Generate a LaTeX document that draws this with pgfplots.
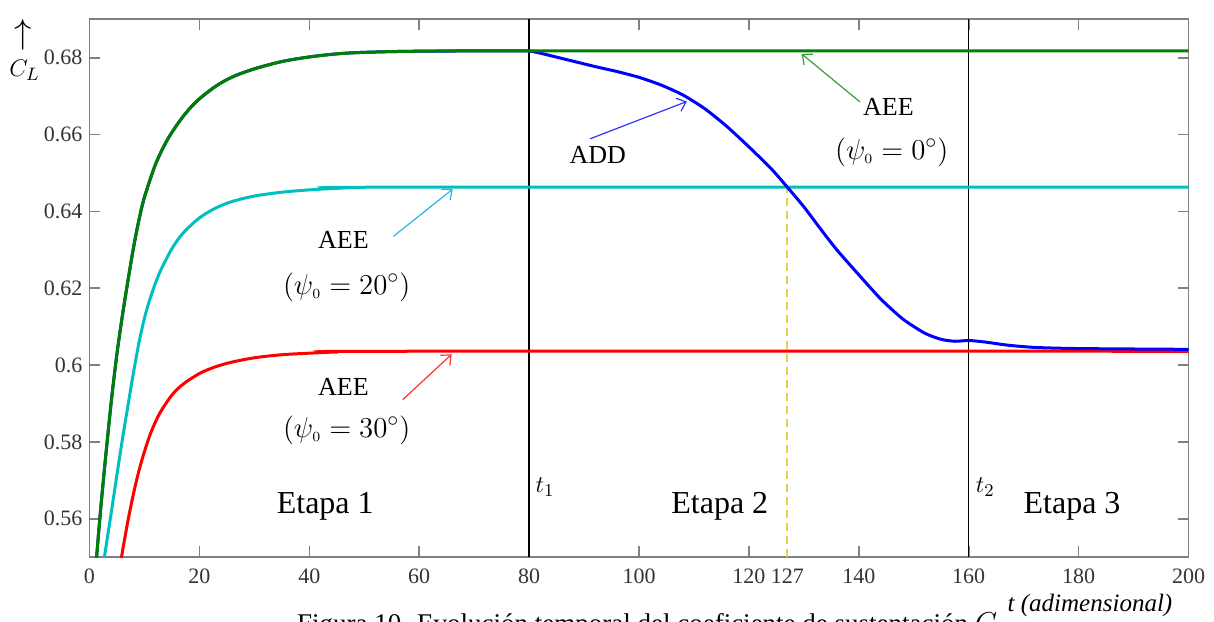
\documentclass[border=0pt]{standalone}
\usepackage{pgfplots}
\pgfplotsset{compat=1.18}
\usepackage{fontspec}
\setmainfont{Liberation Serif}
\usetikzlibrary{arrows.meta}
\definecolor{cgreen}{RGB}{0,128,0}
\definecolor{ccyan}{RGB}{0,191,191}
\definecolor{cblue}{RGB}{0,0,255}
\definecolor{cred}{RGB}{255,0,0}
\definecolor{cyel}{RGB}{222,212,70}
\definecolor{agreen}{RGB}{60,155,60}
\definecolor{acyan}{RGB}{40,180,230}
\definecolor{ablue}{RGB}{50,50,255}
\definecolor{ared}{RGB}{255,50,50}
\begin{document}
\begin{tikzpicture}
\useasboundingbox (-44.75pt,-31.9pt) rectangle (562.25pt,278.6pt);
\begin{axis}[
  at={(0,0)}, anchor=south west,
  scale only axis, width=549.5pt, height=268.95pt,
  xmin=0, xmax=200, ymin=0.55, ymax=0.69,
  xtick={0,20,40,60,80,100,120,140,160,180,200},
  xticklabels={0,20,40,60,80,100,120,140,160,180,200},
  extra x ticks={127}, extra x tick labels={127},
  extra x tick style={major tick length=0pt},
  ytick={0.56,0.58,0.6,0.62,0.64,0.66,0.68},
  yticklabels={0.56,0.58,0.6,0.62,0.64,0.66,0.68},
  tick align=inside, major tick length=5.5pt,
  axis line style={draw=gray, line width=0.8pt},
  tick style={draw=gray, line width=0.8pt},
  ticklabel style={font=\fontsize{11}{13}\selectfont, text=black!80},
  xticklabel style={yshift=-2.5pt},
  clip=true,
]
% vertical reference lines
\addplot[black, line width=0.7pt] coordinates {(80,0.55) (80,0.69)};
\addplot[black, line width=0.7pt] coordinates {(160,0.55) (160,0.69)};
\addplot[cyel, line width=1pt, dash pattern=on 4pt off 2.5pt] coordinates {(127,0.55) (127,0.6463)};
% AEE psi0 = 30
\addplot[cred, line width=1.5pt, smooth] coordinates {
(5.5,0.547)(6,0.5515)(7,0.5595)(8,0.5665)(9,0.5725)(10,0.5775)(11,0.5818)(12,0.5852)(13,0.5880)(15,0.5922)(17,0.5950)(20,0.5978)(23,0.5996)(26,0.6008)(30,0.6019)(35,0.6027)(40,0.6031)(45,0.6034)(55,0.6036)(200,0.6036)};
% AEE psi0 = 20
\addplot[ccyan, line width=1.5pt, smooth] coordinates {
(2.3,0.546)(3,0.5527)(4,0.562)(5,0.5715)(6,0.5808)(7,0.5895)(8,0.598)(9,0.6058)(10,0.6122)(11,0.6172)(12,0.6213)(13,0.6248)(15,0.6303)(17,0.6343)(20,0.6383)(23,0.6409)(26,0.6426)(30,0.6440)(35,0.6450)(40,0.6456)(45,0.6460)(55,0.6463)(200,0.6463)};
% ADD (rise, identical to AEE 0 deg)
\addplot[cblue, line width=1.5pt, smooth] coordinates {
(1.0,0.545)(2,0.562)(3,0.577)(4,0.591)(5,0.603)(6,0.613)(7,0.622)(8,0.6305)(9,0.6378)(10,0.6437)(12,0.6522)(14,0.6582)(16,0.6627)(18,0.6664)(20,0.6693)(23,0.6726)(26,0.6750)(30,0.6771)(35,0.6790)(40,0.6802)(45,0.6810)(50,0.6814)(60,0.6817)(80,0.6818)};
% ADD (decline)
\addplot[cblue, line width=1.5pt, smooth, tension=0.4] coordinates {
(80,0.6818)(82,0.6812)(84,0.6805)(88,0.6791)(92,0.6777)(96,0.6764)(100,0.6749)(104,0.6729)(108,0.6703)(112,0.6667)(116,0.6621)(120,0.6568)(124,0.6512)(127,0.6463)(130,0.6412)(133,0.6355)(136,0.6300)(140,0.6235)(144,0.6172)(148,0.6120)(152,0.6083)(155,0.6067)(157.5,0.6062)(160,0.6064)(163,0.6060)(167,0.6052)(172,0.6046)(180,0.6043)(200,0.6041)};
% AEE psi0 = 0
\addplot[cgreen, line width=1.5pt, smooth] coordinates {
(1.0,0.545)(2,0.562)(3,0.577)(4,0.591)(5,0.603)(6,0.613)(7,0.622)(8,0.6305)(9,0.6378)(10,0.6437)(12,0.6522)(14,0.6582)(16,0.6627)(18,0.6664)(20,0.6693)(23,0.6726)(26,0.6750)(30,0.6771)(35,0.6790)(40,0.6802)(45,0.6810)(50,0.6814)(60,0.6817)(80,0.6818)(200,0.6818)};
% annotations
\draw[ablue, line width=0.6pt, -{Straight Barb[length=4pt,width=7pt]}] (axis cs:91.1,0.6589) -- (axis cs:108.7,0.6686);
\node[font=\fontsize{13}{15}\selectfont] at (axis cs:92.5,0.6546) {ADD};
\draw[agreen, line width=0.6pt, -{Straight Barb[length=4pt,width=7pt]}] (axis cs:140.2,0.6685) -- (axis cs:129.6,0.6810);
\node[font=\fontsize{13}{15}\selectfont] at (axis cs:145.4,0.6673) {AEE};
\node[font=\fontsize{15}{17}\selectfont] at (axis cs:146,0.6555) {$\bigl(\psi_{\scriptscriptstyle 0}=0^{\circ}\bigr)$};
\draw[acyan, line width=0.6pt, -{Straight Barb[length=4pt,width=7pt]}] (axis cs:55.3,0.6335) -- (axis cs:66.1,0.6458);
\node[font=\fontsize{13}{15}\selectfont] at (axis cs:46.2,0.6327) {AEE};
\node[font=\fontsize{15}{17}\selectfont] at (axis cs:46.8,0.6203) {$\bigl(\psi_{\scriptscriptstyle 0}=20^{\circ}\bigr)$};
\draw[ared, line width=0.6pt, -{Straight Barb[length=4pt,width=7pt]}] (axis cs:57,0.5910) -- (axis cs:65.9,0.6028);
\node[font=\fontsize{13}{15}\selectfont] at (axis cs:46.2,0.5943) {AEE};
\node[font=\fontsize{15}{17}\selectfont] at (axis cs:46.8,0.5831) {$\bigl(\psi_{\scriptscriptstyle 0}=30^{\circ}\bigr)$};
\node[font=\fontsize{16}{19}\selectfont] at (axis cs:42.9,0.5632) {Etapa 1};
\node[font=\fontsize{16}{19}\selectfont] at (axis cs:114.7,0.5632) {Etapa 2};
\node[font=\fontsize{16}{19}\selectfont] at (axis cs:178.8,0.5632) {Etapa 3};
\node[font=\fontsize{13}{15}\selectfont] at (axis cs:82.9,0.5682) {$t_1$};
\node[font=\fontsize{13}{15}\selectfont] at (axis cs:163,0.5682) {$t_2$};
\end{axis}
\node[font=\fontsize{13.5}{16}\selectfont, anchor=base west] at (100.25pt,-37.8pt) {Figura 10. Evolución temporal del coeficiente de sustentación $C_L$};
\node[font=\itshape\fontsize{12.5}{14}\selectfont] at (500.25pt,-23.9pt) {t (adimensional)};
\node[font=\fontsize{16}{18}\selectfont] at (-33pt,261pt) {$\uparrow$};
\node[font=\fontsize{13}{15}\selectfont] at (-32.5pt,243.5pt) {$C_L$};
\end{tikzpicture}
\end{document}
